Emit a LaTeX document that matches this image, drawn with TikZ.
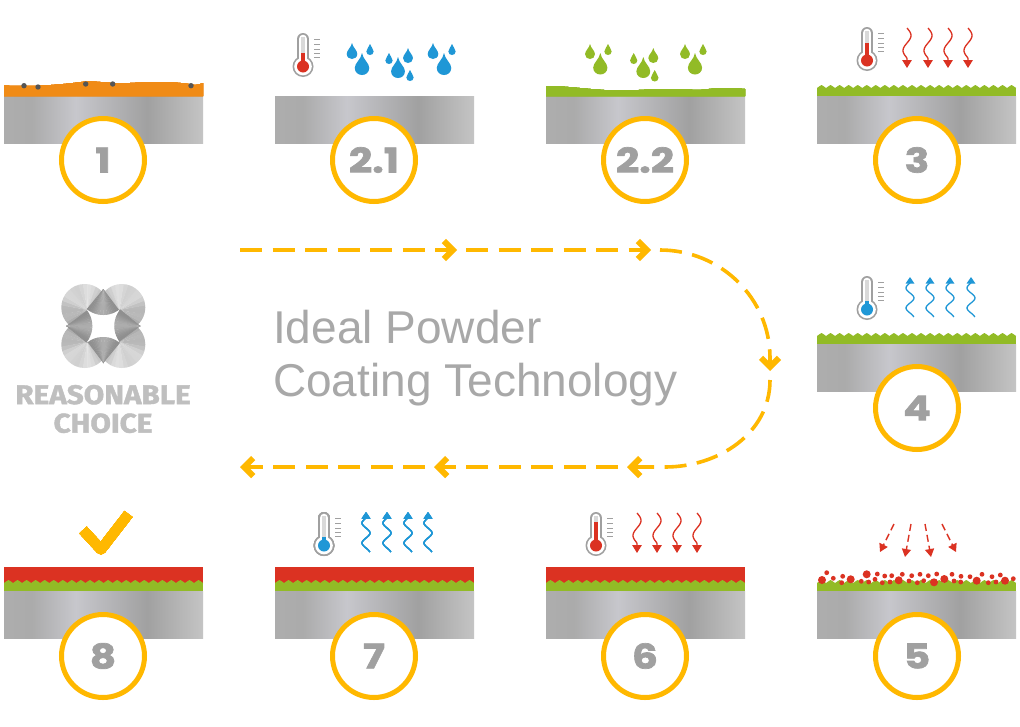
\documentclass[tikz,border=0pt]{standalone}
\usepackage{fontspec}
\setmainfont{Liberation Sans}
\newfontfamily\heavyfont{Poppins}[BoldFeatures={FakeStretch=1.2,FakeBold=2}]
\newfontfamily\logofont{Fira Sans}[BoldFeatures={FakeStretch=1.1,FakeBold=1.5}]
\usepackage{xcolor}
\usetikzlibrary{arrows.meta}
\definecolor{ringyellow}{RGB}{255,184,0}
\definecolor{coatorange}{RGB}{240,139,22}
\definecolor{coatgreen}{RGB}{146,187,38}
\definecolor{coatred}{RGB}{219,50,34}
\definecolor{dropblue}{RGB}{31,151,214}
\definecolor{labelgray}{RGB}{160,160,160}
\definecolor{titlegray}{RGB}{168,168,168}
\definecolor{speck}{RGB}{85,85,85}
\pgfdeclarehorizontalshading{plateshade}{100bp}{
  rgb(0bp)=(.68,.68,.68);
  rgb(25bp)=(.68,.68,.68);
  rgb(32bp)=(.67,.67,.67);
  rgb(43bp)=(.78,.78,.80);
  rgb(61bp)=(.63,.63,.63);
  rgb(75bp)=(.77,.77,.77);
  rgb(100bp)=(.77,.77,.77)}
\newcommand{\plate}[2]{\shade[shading=plateshade] (#1,#2) rectangle ++(199,47);}
% toothed top edge, from the left end of the layer
\newcommand{\teeth}[3]{%
  \fill[#3] (#1,#2+3)
  \foreach \k in {0,...,21} {
    .. controls (#1+\k*9.05+2.5,#2+2) and (#1+\k*9.05+3,#2) .. (#1+\k*9.05+4.5,#2)
    .. controls (#1+\k*9.05+6,#2) and (#1+\k*9.05+6.5,#2+2) .. (#1+\k*9.05+9.05,#2+3)
  } -- cycle;}
\newcommand{\thermo}[4]{%
  \begin{scope}[shift={(#1,#2)}]
    \fill[labelgray] (0,33.5) circle[radius=10.5];
    \draw[labelgray,line width=12pt,line cap=round] (0,6) -- (0,30);
    \fill[white] (0,33.5) circle[radius=8.8];
    \draw[white,line width=8.6pt,line cap=round] (0,6) -- (0,30);
    \fill[black!15] (-2.2,4) rectangle (2.2,30);
    \fill[#3] (-2.2,#4) rectangle (2.2,30);
    \fill[#3] (0,33.5) circle[radius=6];
    \foreach \t in {6,11,16,20,24} \draw[labelgray,line width=.9pt] (11,\t) -- (16.5,\t);
  \end{scope}}
\newcommand{\drop}[4]{%
  \fill[#4] (#1,#2) .. controls (#1+1,#2+.3*#3) and (#1+.33*#3,#2+.45*#3) .. (#1+.33*#3,#2+.68*#3)
    .. controls (#1+.33*#3,#2+.88*#3) and (#1+.17*#3,#2+#3) .. (#1,#2+#3)
    .. controls (#1-.17*#3,#2+#3) and (#1-.33*#3,#2+.88*#3) .. (#1-.33*#3,#2+.68*#3)
    .. controls (#1-.33*#3,#2+.45*#3) and (#1-1,#2+.3*#3) .. (#1,#2) -- cycle;}
\newcommand{\wavedown}[2]{%
  \draw[coatred,line width=1.3pt,downwave] plot[smooth,samples=30,domain=0:40,variable=\t] ({#1+4*sin(min(\t,30)*12)},{#2+\t});}
\newcommand{\waveup}[2]{%
  \draw[dropblue,line width=1.3pt,upwave] plot[smooth,samples=30,domain=0:40,variable=\t] ({#1-4*sin(max(0,\t-6)*18)},{#2+\t});}
\begin{document}
\begin{tikzpicture}[x=1pt,y=-1pt]
\tikzstyle{badge}=[circle,draw=ringyellow,line width=5pt,fill=white,minimum size=83pt,inner sep=0pt,text=labelgray,font=\heavyfont\bfseries\fontsize{34}{34}\selectfont]
\tikzstyle{flow}=[draw=ringyellow,line width=3.6pt,dash pattern=on 22pt off 10.5pt,-{Straight Barb[length=9pt,width=18pt,line width=6pt]}]
\tikzstyle{downwave}=[-{Triangle[length=8pt,width=9.5pt]}]
\tikzstyle{upwave}=[{Triangle[length=6.5pt,width=8.5pt]}-]
\tikzstyle{spray}=[draw=coatred,line width=1.4pt,dash pattern=on 7pt off 4pt,-{Triangle[length=8pt,width=9pt]}]
\useasboundingbox (0,0) rectangle (1020,726);
\fill[white] (0,0) rectangle (1020,726);
% plates
\foreach \x/\y in {4/96,275/96,546/96,817/96,817/344,4/591,275/591,546/591,817/591}
  \plate{\x}{\y}
% panel 1
\fill[coatorange] (4,96) -- (4,85.5) .. controls (30,87) and (60,85) .. (85,81.5) .. controls (100,81) and (110,84) .. (130,83)
  .. controls (150,82) and (175,81) .. (195,85) .. controls (198,85) and (200,84) .. (203,83) -- (203,96) -- cycle;
\foreach \x/\y in {24/85.7,38/87,85.7/84,112.7/84,191/85.7}
  \fill[speck] (\x,\y) circle[radius=2.7];
% panel 2.1
\thermo{303}{33}{coatred}{20}
\foreach \x/\y/\s in {352/43/16,370/44/11,362/53/22,389/53/11,408/48/15,398/57/21,410/70/11,433/43/16,452/44/11,444/53/22}
  \drop{\x}{\y}{\s}{dropblue}
% panel 2.2
\fill[coatgreen] (546,96) -- (546,86) .. controls (570,86) and (590,90) .. (617,90.5) .. controls (640,90.5) and (650,89) .. (665,89)
  .. controls (685,89) and (695,90.5) .. (705,89.5) .. controls (715,88) and (730,87.5) .. (745,89) -- (745,96) -- cycle;
\foreach \x/\y/\s in {590/44/15,608/44/11,600.3/53/21.5,633.7/53/11,653.3/48/15,643.3/57/21,654.7/70/11.5,685/44/15,703/44/11,695/53/21.5}
  \drop{\x}{\y}{\s}{coatgreen}
% panel 3
\fill[coatgreen] (817,88) rectangle (1016,96);
\teeth{817}{85}{coatgreen}
\thermo{867}{27}{coatred}{16}
\foreach \x in {907,928,948,968}
  \wavedown{\x}{28}
% panel 4
\fill[coatgreen] (817,336) rectangle (1016,344);
\teeth{817}{333}{coatgreen}
\thermo{867}{276}{dropblue}{25}
\foreach \x in {910,930,950,971}
  \waveup{\x}{277}
% panel 5
\fill[coatgreen] (817,583) rectangle (1016,591);
\teeth{817}{580}{coatgreen}
\foreach \x/\y in {822/580,850.7/579.3,866.7/574.3,898.7/580.3,934/582.3,944.3/579,976.7/580.7,1005/580.7}
  \fill[coatred] (\x,\y) circle[radius=4];
\foreach \x/\y in {826.7/572.7,833.3/578.3,841.7/582.7,842.7/576.3,861.3/581.3,868.7/582,875/579.3,877.3/574,882.3/582.7,884.7/576,890/582,891.7/575.7,902.3/574.3,909/581,911.7/575.7,917.3/582.7,920/574.3,923.7/580.7,928.3/575.7,936.7/574,952/574.3,954/581,961/576.3,960.7/582,970/576.7,982/574.3,988.3/582.7,992/576.7,996/582,1000.3/575,1013.3/578.7}
  \fill[coatred] (\x,\y) circle[radius=2.4];
\foreach \name/\fx/\tx/\ty in {a/894/880/552,b/911/905/557,c/925/931/557,d/942/956/552} {
  \coordinate (spray\name) at (\fx,524);
  \coordinate (land\name) at (\tx,\ty);
  \path[spray] (spray\name) -- (land\name);
}
% panels 6 to 8
\foreach \x in {4,275,546} {
  \fill[coatred] (\x,567) rectangle (\x+199,584);
  \fill[coatgreen] (\x,583) rectangle (\x+199,591);
  \teeth{\x}{580}{coatgreen}
}
\thermo{596}{512}{coatred}{10}
\foreach \x in {637,657,677,697}
  \wavedown{\x}{513}
\thermo{324}{512}{dropblue}{25}
\foreach \x in {366,387,408,428}
  \waveup{\x}{512}
\draw[ringyellow,line width=10pt,line join=round] (83,530) -- (101,549.5) -- (128.5,514);
% badges
\foreach \pos/\name/\txt in {{(103,160)/one/1},{(374,160)/twoa/2.1},{(645,160)/twob/2.2},{(917,160)/three/3},{(917,408)/four/4},{(917,656)/five/5},{(645,656)/six/6},{(374,656)/seven/7},{(103,656)/eight/8}}
  \node[badge] (\name) at \pos {\txt};
% process flow
\coordinate (start) at (240,250);
\coordinate (topa) at (457,250);
\coordinate (topb) at (466,250);
\coordinate (topc) at (651,250);
\coordinate (topd) at (660,250);
\coordinate (turn) at (770,358);
\coordinate (rightend) at (770,371);
\coordinate (rightnext) at (770,380);
\coordinate (low) at (665,467);
\coordinate (lowa) at (627,467);
\coordinate (lowb) at (618,467);
\coordinate (lowc) at (434,467);
\coordinate (lowd) at (425,467);
\coordinate (finish) at (240,467);
\path[flow] (start) -- (topa);
\path[flow] (topb) -- (topc);
\path[flow] (topd) to[out=0,in=90] (turn) -- (rightend);
\path[flow] (rightnext) to[out=-90,in=0] (low) -- (lowa);
\path[flow] (lowb) -- (lowc);
\path[flow] (lowd) -- (finish);
% title
\node[anchor=west,text=titlegray,font=\fontsize{46}{53}\selectfont,align=left,inner sep=0pt] (title) at (273,358) {Ideal Powder\\Coating Technology};
% logo
\begin{scope}[shift={(103.3,326)}]
  \foreach \sx/\sy in {-1/-1,1/-1,-1/1,1/1} {
    \begin{scope}[xscale=\sx,yscale=\sy]
      \clip (18.5,18.5) circle[radius=23.5];
      \foreach \a in {0,10,...,350} {
        \pgfmathsetmacro{\g}{28-13*cos(\a-75)+3*cos(\a*6)}
        \fill[black!\g] (16,16) -- +(\a:60) -- +(\a+11:60) -- cycle;
      }
    \end{scope}
  }
  \fill[white] (-16,-16) rectangle (16,16);
  \foreach \r in {0,90,180,270} {
    \begin{scope}[rotate=\r]
      \foreach \a in {53,57,...,125} {
        \pgfmathsetmacro{\g}{38-6*cos((\a-90)*5)}
        \fill[black!\g] (0,-37) -- +(\a:26) -- +(\a+4.6:26) -- cycle;
      }
    \end{scope}
  }
\end{scope}
\node[text=black!25,font=\logofont\bfseries\fontsize{27}{28.5}\selectfont,align=center,inner sep=0pt] (brand) at (103,409) {REASONABLE\\CHOICE};
\end{tikzpicture}
\end{document}
